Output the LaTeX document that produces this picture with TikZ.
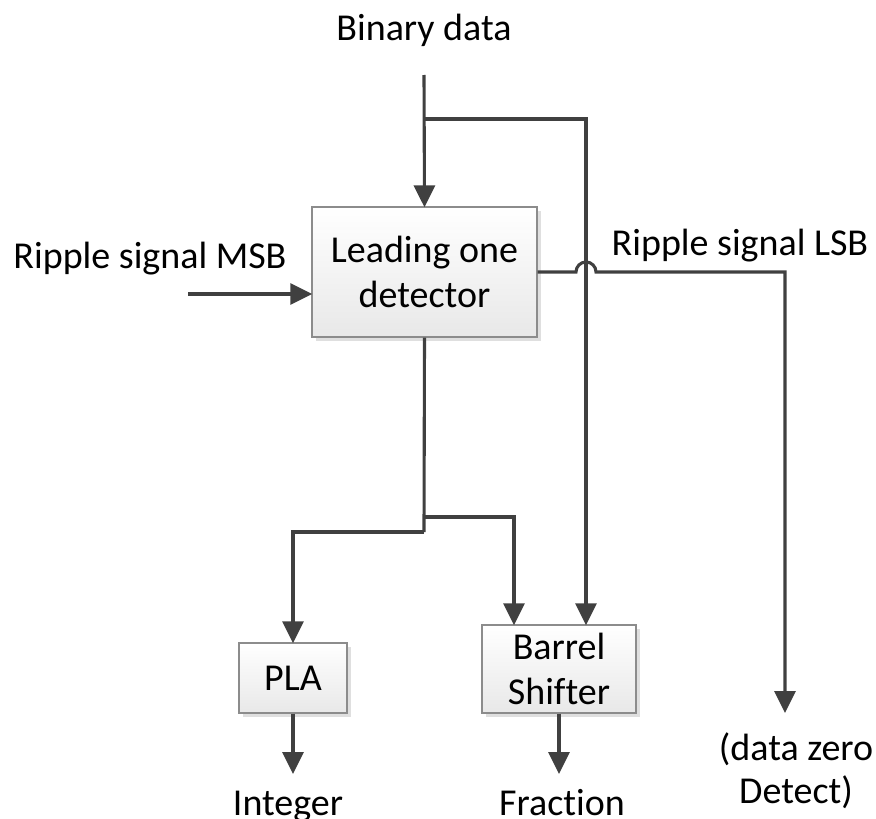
\documentclass[tikz,border=0pt]{standalone}
\usepackage{fontspec}
\setmainfont{Carlito}[Ligatures=NoCommon]
\usetikzlibrary{arrows.meta,shadows}

\definecolor{wire}{HTML}{404040}
\definecolor{boxline}{HTML}{8C8C8C}
\definecolor{boxbottom}{HTML}{E8E8E8}

\tikzset{
  unit/.style={draw=boxline, line width=1.3pt, top color=white, bottom color=boxbottom,
    drop shadow={shadow xshift=4pt, shadow yshift=-4pt, fill=black!18, opacity=0.7},
    align=center, inner sep=0pt, font=\fontsize{38}{45}\selectfont},
  label text/.style={align=center, inner sep=0pt, font=\fontsize{38}{43}\selectfont},
  wire/.style={draw=wire, line width=3.1pt},
  sig/.style={wire, -{Triangle[length=22pt, width=21pt]}, shorten >=-1pt},
}

\begin{document}
\begin{tikzpicture}[x=1pt, y=-1pt]
  \useasboundingbox (0,0) rectangle (876,819);

  % blocks
  \node[unit, minimum width=225pt, minimum height=130pt] (lod) at (424.5,272) {Leading one\\detector};
  \node[unit, minimum width=108pt, minimum height=70pt] (pla) at (293,678) {PLA};
  \node[unit, minimum width=154pt, minimum height=88pt] (bs) at (559,669) {Barrel\\Shifter};

  % labels
  \node[label text, anchor=base] (bin) at (424,40) {Binary data};
  \node[label text, anchor=base] (msb) at (150,268) {Ripple signal MSB};
  \node[label text, anchor=base] (lsb) at (740,255) {Ripple signal LSB};
  \node[label text, anchor=base] (int) at (288,815) {Integer};
  \node[label text, anchor=base] (frac) at (562,815) {Fraction};
  \node[label text] (dz) at (796,771) {(data zero\\Detect)};

  % wiring points
  \coordinate (binin) at (424,75);
  \coordinate (binsplit) at (424,119);
  \coordinate (bincorner) at (586,119);
  \coordinate (msbin) at (188,294);
  \coordinate (lodsplit) at (424,532);
  \coordinate (lodsplitR) at (424,517);
  \coordinate (placorner) at (293,532);
  \coordinate (bscornerL) at (514,517);
  \coordinate (jumpL) at (576,272);
  \coordinate (lsbcorner) at (785,272);
  \coordinate (dzend) at (785,712);
  \coordinate (intend) at (293,773);
  \coordinate (fracend) at (559,773);

  % binary data input and its branch to the shifter
  \draw[sig] (binin) -- (lod.north);
  \draw[sig] (binsplit) -- (bincorner) -- (bs.north -| bincorner);

  % ripple MSB input
  \draw[sig] (msbin) -- (lod.west |- msbin);

  % ripple LSB output, hopping over the data branch
  \draw[sig] (lod.east) -- (jumpL) arc[start angle=180, end angle=0, radius=10pt]
    -- (lsbcorner) -- (dzend);

  % detector outputs
  \draw[wire] (lod.south) -- (lodsplit);
  \draw[sig] (lodsplit) -- (placorner) -- (pla.north);
  \draw[sig] (lodsplitR) -- (bscornerL) -- (bs.north -| bscornerL);

  % block outputs
  \draw[sig] (pla.south) -- (intend);
  \draw[sig] (bs.south) -- (fracend);
\end{tikzpicture}
\end{document}
